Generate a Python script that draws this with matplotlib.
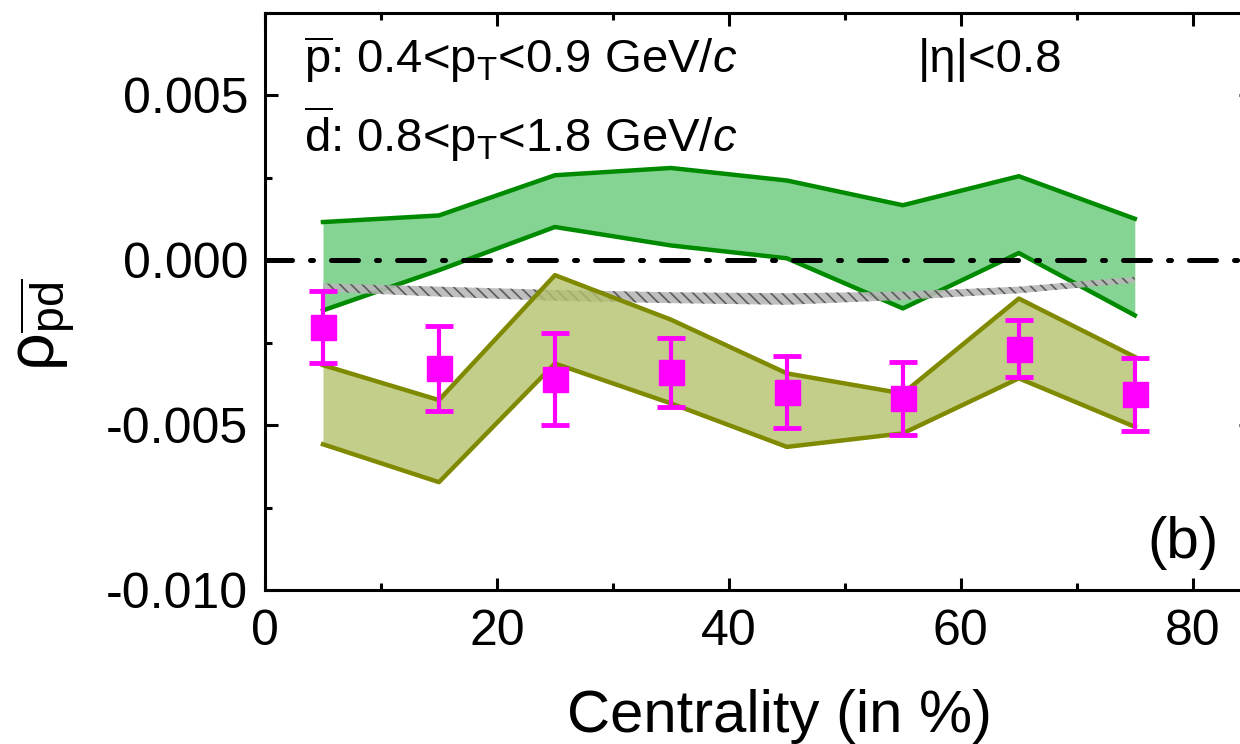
import matplotlib
matplotlib.use("Agg")
import matplotlib.pyplot as plt
from matplotlib.ticker import MultipleLocator

plt.rcParams['font.family'] = ['Liberation Sans', 'DejaVu Sans']
plt.rcParams['mathtext.fontset'] = 'custom'
plt.rcParams['mathtext.rm'] = 'Liberation Sans'
plt.rcParams['mathtext.it'] = 'Liberation Sans:italic'
plt.rcParams['mathtext.sf'] = 'Liberation Sans'
plt.rcParams['hatch.linewidth'] = 1.2

# centrality bins (bin centres, %)
centrality = [5, 15, 25, 35, 45, 55, 65, 75]

# measured values with errors (magenta squares)
rho_data = [-0.00202, -0.00328, -0.0036, -0.0034, -0.00399, -0.00419, -0.00268, -0.00407]
rho_err = [0.00108, 0.0013, 0.0014, 0.00105, 0.0011, 0.0011, 0.00087, 0.0011]

# green band
green_hi = [0.00116, 0.00136, 0.00258, 0.0028, 0.00242, 0.00167, 0.00255, 0.00126]
green_lo = [-0.00152, -0.0003, 0.00101, 0.00045, 0.00006, -0.00146, 0.00022, -0.00167]

# olive band
olive_hi = [-0.00318, -0.00424, -0.00045, -0.0018, -0.00343, -0.00404, -0.00116, -0.00293]
olive_lo = [-0.00558, -0.00673, -0.00313, -0.00434, -0.00566, -0.00525, -0.00358, -0.00505]

# gray hatched band
gray_hi = [-0.0007, -0.0008, -0.0009, -0.00097, -0.001, -0.00095, -0.0008, -0.0005]
gray_lo = [-0.00095, -0.0011, -0.00123, -0.0013, -0.00135, -0.0012, -0.001, -0.00068]

fig = plt.figure(figsize=(12.4, 7.44), dpi=100)
ax = fig.add_axes([0.2137, 0.207, 0.795, 0.7755])

ax.fill_between(centrality, green_lo, green_hi, color='#86d493', lw=0, zorder=1)
ax.plot(centrality, green_hi, color='#008a00', lw=3.2, zorder=2)
ax.plot(centrality, green_lo, color='#008a00', lw=3.2, zorder=2)

zero, = ax.plot([0, 85], [0, 0], color='black', lw=3.6, ls=(0, (5.4, 3.6, 0.6, 3.6)),
                zorder=3)
zero.set_dash_capstyle('round')

ax.fill_between(centrality, gray_lo, gray_hi, facecolor='#b8b8b8', edgecolor='#505050',
                hatch='\\\\\\', lw=0, alpha=0.9, zorder=4)

ax.fill_between(centrality, olive_lo, olive_hi, color='#b5c26e', alpha=0.8, lw=0, zorder=5)
ax.plot(centrality, olive_hi, color='#7f8a00', lw=3.2, zorder=6)
ax.plot(centrality, olive_lo, color='#7f8a00', lw=3.2, zorder=6)

ax.errorbar(centrality, rho_data, yerr=rho_err, fmt='s', color='#ff00ff', ms=18,
            elinewidth=3, capsize=10, capthick=3.5, zorder=7)

ax.set_xlim(0, 85)
ax.set_ylim(-0.010, 0.0075)
ax.xaxis.set_major_locator(MultipleLocator(20))
ax.xaxis.set_minor_locator(MultipleLocator(10))
ax.yaxis.set_major_locator(MultipleLocator(0.005))
ax.yaxis.set_minor_locator(MultipleLocator(0.0025))
ax.yaxis.set_major_formatter(matplotlib.ticker.FormatStrFormatter('%.3f'))

for s in ax.spines.values():
    s.set_linewidth(2.2)
ax.tick_params(which='both', direction='in', top=True, right=True, width=2.2,
               labelsize=36)
ax.tick_params(which='major', length=9)
ax.tick_params(which='minor', length=5)
ax.tick_params(axis='y', pad=12)
ax.tick_params(axis='x', pad=14)

ax.set_xlabel('Centrality (in %)', fontsize=43)
ax.xaxis.set_label_coords(0.522, -0.172)
ax.set_ylabel(r'ρ$_{\overline{\mathrm{pd}}}$', fontsize=48)
ax.yaxis.set_label_coords(-0.19, 0.46)

ax.text(0.04, 0.918, r'$\overline{\mathrm{p}}$: 0.4<p$_\mathrm{T}$<0.9 GeV/$c$',
        transform=ax.transAxes, fontsize=34, va='center', ha='left')
ax.text(0.04, 0.79, r'$\overline{\mathrm{d}}$: 0.8<p$_\mathrm{T}$<1.8 GeV/$c$',
        transform=ax.transAxes, fontsize=34, va='center', ha='left')
ax.text(0.662, 0.918, '|η|<0.8', transform=ax.transAxes, fontsize=34,
        va='center', ha='left')
ax.text(0.895, 0.082, '(b)', transform=ax.transAxes, fontsize=42, va='center', ha='left')

fig.savefig('out.png', dpi=100)
